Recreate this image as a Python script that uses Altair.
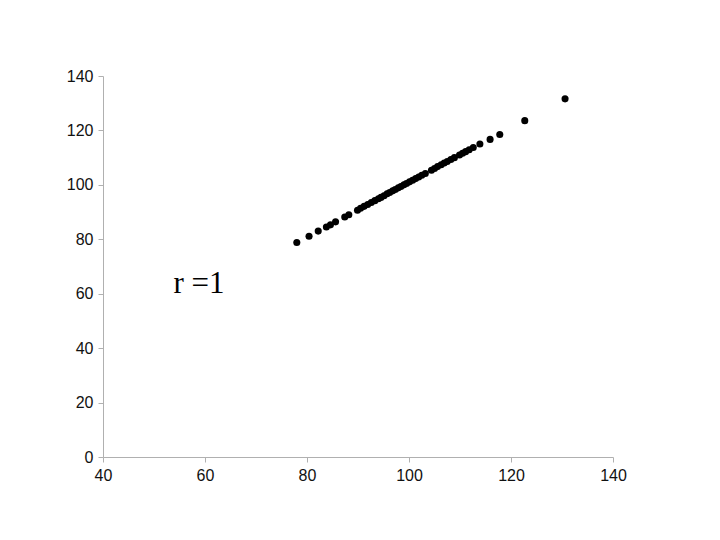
import altair as alt
import pandas as pd

x_vals = [78.0, 80.4, 82.2, 83.8, 84.6, 85.6, 87.4, 88.2, 89.9, 90.5, 91.2, 91.9,
          92.6, 93.3, 94.0, 94.5, 95.1, 95.7, 96.2, 96.8, 97.3, 97.9, 98.4, 99.0,
          99.5, 100.1, 100.7, 101.3, 101.9, 102.5, 103.2, 104.4, 105.0, 105.6,
          106.3, 106.9, 107.5, 108.2, 108.9, 109.9, 110.5, 111.1, 111.8, 112.6,
          113.9, 115.9, 117.8, 122.7, 130.6]
y_vals = [78.8, 81.1, 83.0, 84.5, 85.3, 86.4, 88.2, 89.0, 90.7, 91.4, 92.1, 92.8,
          93.5, 94.2, 94.9, 95.4, 96.0, 96.7, 97.2, 97.8, 98.3, 98.9, 99.4, 100.0,
          100.5, 101.1, 101.7, 102.3, 102.9, 103.5, 104.2, 105.4, 106.0, 106.7,
          107.4, 108.0, 108.6, 109.3, 110.0, 111.0, 111.6, 112.2, 112.9, 113.7,
          115.0, 116.7, 118.5, 123.6, 131.6]
label_text = ["r =1"]
label_x = [53.8]
label_y = [63.5]

df = pd.DataFrame({"x": x_vals, "y": y_vals})
lab = pd.DataFrame({"t": label_text, "x": label_x, "y": label_y})

xs = alt.Scale(domain=[40, 140], nice=False, zero=False)
ys = alt.Scale(domain=[0, 140], nice=False)

pts = alt.Chart(df).mark_circle(size=50, color="black", opacity=1).encode(
    x=alt.X("x:Q", scale=xs, axis=alt.Axis(values=[40, 60, 80, 100, 120, 140], title=None,
                                           labelPadding=5, labelFlush=False)),
    y=alt.Y("y:Q", scale=ys, axis=alt.Axis(values=[0, 20, 40, 60, 80, 100, 120, 140], title=None,
                                           labelPadding=5, labelFlush=False)),
)

txt = alt.Chart(lab).mark_text(font="Liberation Serif", fontSize=31, align="left",
                               baseline="middle", color="black").encode(
    x=alt.X("x:Q", scale=xs), y=alt.Y("y:Q", scale=ys), text="t:N")

chart = (pts + txt).properties(
    width=510, height=381,
    autosize=alt.AutoSizeParams(type="none"),
    padding={"left": 95, "top": 68, "right": 40, "bottom": 60},
).configure_view(stroke=None).configure_axis(
    grid=False, domainColor="#b0b0b0", tickColor="#b0b0b0", tickSize=5,
    labelFont="Liberation Sans", labelFontSize=16, labelColor="#111111",
)

chart.save("out.html", embed_options={"renderer": "svg", "actions": False})
